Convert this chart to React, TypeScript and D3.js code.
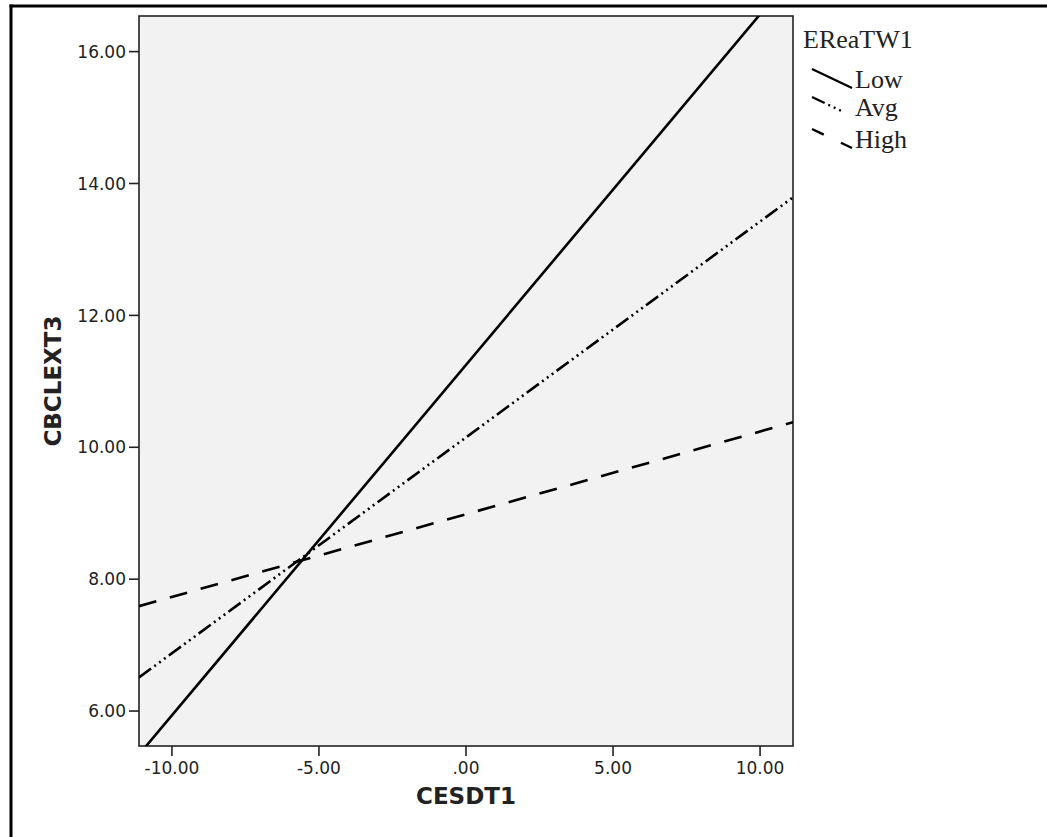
import React from "react";
import * as d3 from "d3";

// ---- data ----
const xEnds: number[] = [-11.12, 11.12];
const seriesNames: string[] = ["Low", "Avg", "High"];
const lowValues: number[] = [5.34, 17.16];
const avgValues: number[] = [6.51, 13.79];
const highValues: number[] = [7.59, 10.38];
const xTicks: number[] = [-10, -5, 0, 5, 10];
const xTickLabels: string[] = ["-10.00", "-5.00", ".00", "5.00", "10.00"];
const yTicks: number[] = [6, 8, 10, 12, 14, 16];
const yTickLabels: string[] = ["6.00", "8.00", "10.00", "12.00", "14.00", "16.00"];
const xTitle = "CESDT1";
const yTitle = "CBCLEXT3";
const legendTitle = "EReaTW1";

const W = 1047;
const H = 837;
const plot = { left: 139, right: 793, top: 16, bottom: 746 };

const dashes: Record<string, string | undefined> = {
  Low: undefined,
  Avg: "15,4,2,4,2,4,2,4",
  High: "18,14",
};

export default function App() {
  const x = d3.scaleLinear().domain([-11.12, 11.12]).range([plot.left, plot.right]);
  const y = d3.scaleLinear().domain([5.47, 16.54]).range([plot.bottom, plot.top]);
  const line = d3
    .line<[number, number]>()
    .x((d) => x(d[0]))
    .y((d) => y(d[1]));
  const series = [lowValues, avgValues, highValues].map((vals, i) => ({
    name: seriesNames[i],
    pts: xEnds.map((xv, j) => [xv, vals[j]] as [number, number]),
  }));
  const tickFont = "'DejaVu Sans', Verdana, sans-serif";
  const serif = "'Liberation Serif', 'Times New Roman', serif";
  const legendY = [78, 106, 138];
  return (
    <svg
      width={W}
      height={H}
      style={{ position: "absolute", left: 0, top: 0, background: "#fff" }}
    >
      <defs>
        <clipPath id="plotclip">
          <rect x={plot.left} y={plot.top} width={plot.right - plot.left} height={plot.bottom - plot.top} />
        </clipPath>
      </defs>
      {/* outer frame */}
      <line x1={9.5} x2={W} y1={6} y2={6} stroke="#000" strokeWidth={3} />
      <line x1={11} x2={11} y1={4.5} y2={H} stroke="#000" strokeWidth={3} />
      {/* plot area */}
      <rect
        x={plot.left}
        y={plot.top}
        width={plot.right - plot.left}
        height={plot.bottom - plot.top}
        fill="#f2f2f2"
        stroke="#222"
        strokeWidth={1.6}
      />
      <g clipPath="url(#plotclip)">
        {series.map((s) => (
          <path
            key={s.name}
            d={line(s.pts) || ""}
            fill="none"
            stroke="#000"
            strokeWidth={2.6}
            strokeDasharray={dashes[s.name]}
          />
        ))}
      </g>
      {/* y axis */}
      {yTicks.map((t, i) => (
        <g key={"y" + t}>
          <line x1={plot.left - 10} x2={plot.left} y1={y(t)} y2={y(t)} stroke="#222" strokeWidth={1.6} />
          <text
            x={plot.left - 13}
            y={y(t)}
            dy="0.36em"
            textAnchor="end"
            fontFamily={tickFont}
            fontSize={17}
            fill="#222"
          >
            {yTickLabels[i]}
          </text>
        </g>
      ))}
      {/* x axis */}
      {xTicks.map((t, i) => (
        <g key={"x" + t}>
          <line x1={x(t)} x2={x(t)} y1={plot.bottom} y2={plot.bottom + 10} stroke="#222" strokeWidth={1.6} />
          <text
            x={x(t)}
            y={774}
            textAnchor="middle"
            fontFamily={tickFont}
            fontSize={17}
            fill="#222"
          >
            {xTickLabels[i]}
          </text>
        </g>
      ))}
      <text
        x={(plot.left + plot.right) / 2}
        y={804}
        textAnchor="middle"
        fontFamily={tickFont}
        fontWeight="bold"
        fontSize={23}
        fill="#222"
      >
        {xTitle}
      </text>
      <text
        transform={`translate(61,${(plot.top + plot.bottom) / 2}) rotate(-90)`}
        textAnchor="middle"
        fontFamily={tickFont}
        fontWeight="bold"
        fontSize={23}
        fill="#222"
      >
        {yTitle}
      </text>
      {/* legend */}
      <text x={803} y={48} fontFamily={serif} fontSize={26} fill="#222">
        {legendTitle}
      </text>
      {seriesNames.map((n, i) => (
        <g key={"lg" + n}>
          <line
            x1={812}
            y1={legendY[i] - 9}
            x2={852}
            y2={legendY[i] + 10}
            stroke="#000"
            strokeWidth={2.4}
            strokeDasharray={n === "Avg" ? "14,4,2,4,2,4,2" : n === "High" ? "13,19" : undefined}
          />
          <text x={855} y={legendY[i] + 10} fontFamily={serif} fontSize={26} fill="#222">
            {n}
          </text>
        </g>
      ))}
    </svg>
  );
}
